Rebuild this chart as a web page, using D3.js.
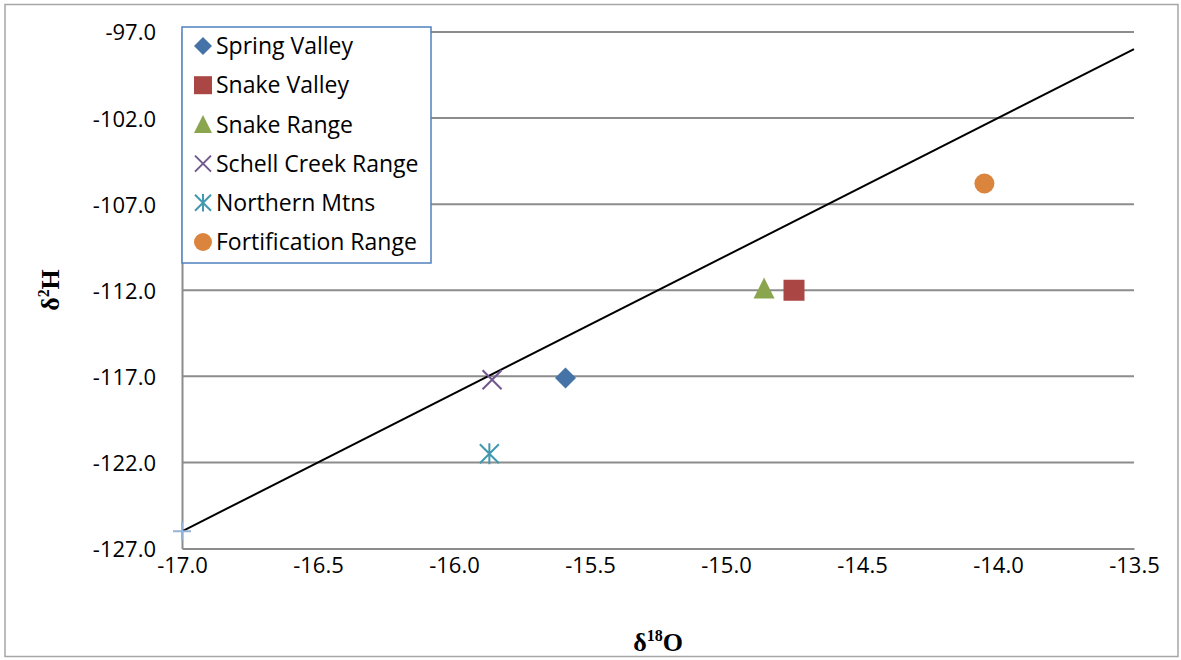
<!DOCTYPE html>
<html><head><meta charset="utf-8">
<script src="https://cdn.jsdelivr.net/npm/d3@7"></script>
<style>body{margin:0;background:#fff}</style>
</head><body>
<svg id="c" width="1181" height="660"></svg>
<script>
const seriesNames = ["Spring Valley","Snake Valley","Snake Range","Schell Creek Range","Northern Mtns","Fortification Range"];
const seriesColors = ["#4572A7","#AA4643","#89A54E","#71588F","#4198AF","#DB843D"];
const seriesShapes = ["diamond","square","triangle","x","asterisk","circle"];
const d18O = [-15.59,-14.75,-14.86,-15.86,-15.87,-14.05];
const d2H = [-117.1,-112.0,-111.9,-117.2,-121.5,-105.8];
const lineX = [-17.0,-13.5];
const lineY = [-126.0,-98.0];
const extraPoint = [-17.0,-126.0];
const xTicks = [-17.0,-16.5,-16.0,-15.5,-15.0,-14.5,-14.0,-13.5];
const yTicks = [-127.0,-122.0,-117.0,-112.0,-107.0,-102.0,-97.0];

const svg = d3.select("#c");
const L=182,R=1134,T=32,B=548.5;
const x = d3.scaleLinear().domain([-17,-13.5]).range([L,R]);
const y = d3.scaleLinear().domain([-127,-97]).range([B,T]);
const font = "'Open Sans', sans-serif";
const fmt = d => d3.format(".1f")(d).replace("−","-");

svg.append("rect").attr("x",5).attr("y",4.5).attr("width",1173).attr("height",652).attr("fill","none").attr("stroke","#a6a6a6").attr("stroke-width",1.5);

// gridlines
svg.append("g").selectAll("line").data(yTicks.filter(d=>d>-127)).join("line")
  .attr("x1",L).attr("x2",R).attr("y1",d=>y(d)).attr("y2",d=>y(d))
  .attr("stroke","#8c8c8c").attr("stroke-width",2);

// axes
const yAxis = d3.axisLeft(y).tickValues(yTicks).tickSize(0).tickPadding(26).tickFormat(fmt);
const gy = svg.append("g").attr("transform",`translate(${L},0)`).call(yAxis);
gy.select(".domain").attr("stroke","#8c8c8c").attr("stroke-width",2);
gy.selectAll("text").attr("font-family",font).attr("font-size",22).attr("fill","#000").attr("dy","0.36em");
const xAxis = d3.axisBottom(x).tickValues(xTicks).tickSize(0).tickPadding(9).tickFormat(fmt);
const gx = svg.append("g").attr("transform",`translate(0,${B})`).call(xAxis);
gx.select(".domain").attr("stroke","#8c8c8c").attr("stroke-width",2);
gx.selectAll("text").attr("font-family",font).attr("font-size",22).attr("fill","#000");

// line
svg.append("path").datum(lineX.map((v,i)=>[v,lineY[i]]))
  .attr("d",d3.line().x(d=>x(d[0])).y(d=>y(d[1])))
  .attr("stroke","#000").attr("stroke-width",2).attr("fill","none");

// extra plus
svg.append("path").attr("transform",`translate(${x(extraPoint[0])},${y(extraPoint[1])})`)
  .attr("d","M-9,0H9M0,-9V9").attr("stroke","#95B3D7").attr("stroke-width",2);

function marker(g, shape, color, s){
  if(shape==="diamond") g.append("path").attr("d",`M0,${-s}L${s},0L0,${s}L${-s},0Z`).attr("fill",color);
  else if(shape==="square") g.append("rect").attr("x",-s).attr("y",-s).attr("width",s*2).attr("height",s*2).attr("fill",color);
  else if(shape==="triangle") g.append("path").attr("d",`M0,${-s*1.05}L${s},${s*0.95}L${-s},${s*0.95}Z`).attr("fill",color);
  else if(shape==="x") g.append("path").attr("d",`M${-s},${-s}L${s},${s}M${s},${-s}L${-s},${s}`).attr("stroke",color).attr("stroke-width",2);
  else if(shape==="asterisk") g.append("path").attr("d",`M${-s},${-s}L${s},${s}M${s},${-s}L${-s},${s}M0,${-s*1.1}V${s*1.1}`).attr("stroke",color).attr("stroke-width",2);
  else if(shape==="circle") g.append("circle").attr("r",s).attr("fill",color);
}

const sizes = {diamond:10.5,square:10.5,triangle:10.5,x:9.5,asterisk:9.5,circle:10};
d18O.forEach((v,i)=>{
  const g = svg.append("g").attr("transform",`translate(${x(v)},${y(d2H[i])})`);
  marker(g, seriesShapes[i], seriesColors[i], sizes[seriesShapes[i]]);
});

// legend
svg.append("rect").attr("x",L).attr("y",27).attr("width",249).attr("height",236).attr("fill","#fff").attr("stroke","#4f81bd").attr("stroke-width",1.5);
const lsz = {diamond:9,square:9,triangle:9,x:8,asterisk:8,circle:9};
seriesNames.forEach((n,i)=>{
  const cy = 46 + i*39.2;
  const g = svg.append("g").attr("transform",`translate(203,${cy})`);
  marker(g, seriesShapes[i], seriesColors[i], lsz[seriesShapes[i]]);
  svg.append("text").attr("x",216).attr("y",cy).attr("dy","0.36em").attr("font-family",font).attr("font-size",23).text(n);
});

// axis titles
const yt = svg.append("text").attr("transform","translate(59,290) rotate(-90)").attr("text-anchor","middle")
  .attr("font-family","'Liberation Serif','DejaVu Serif',serif").attr("font-weight","bold").attr("font-size",26);
yt.append("tspan").text("δ");
yt.append("tspan").attr("font-size",16).attr("dy",-10).text("2");
yt.append("tspan").attr("dy",10).text("H");
const xt = svg.append("text").attr("x",658).attr("y",651).attr("text-anchor","middle")
  .attr("font-family","'Liberation Serif','DejaVu Serif',serif").attr("font-weight","bold").attr("font-size",26);
xt.append("tspan").text("δ");
xt.append("tspan").attr("font-size",16).attr("dy",-10).text("18");
xt.append("tspan").attr("dy",10).text("O");
</script>
</body></html>
